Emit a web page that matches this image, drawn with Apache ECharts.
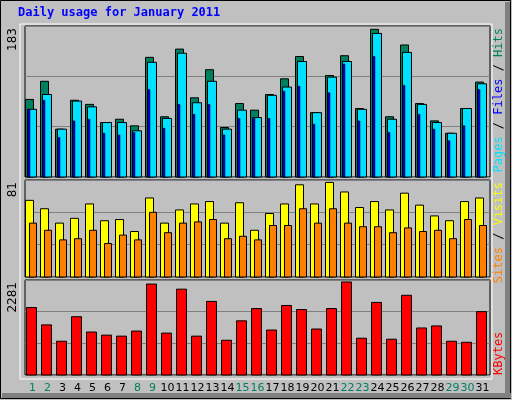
<!DOCTYPE html>
<html><head><meta charset="utf-8">
<script src="https://cdn.jsdelivr.net/npm/echarts@6/dist/echarts.min.js"></script>
<style>html,body{margin:0;padding:0;background:#fff}#c{width:512px;height:400px}</style>
</head><body><div id="c"></div>
<script>
const days = Array.from({length:31},(_,i)=>String(i+1));
const weekend = ['1','2','8','9','15','16','22','23','29','30'];
const hits  = [94,116,58,93,88,66,70,62,145,73,155,96,130,60,89,81,100,119,146,78,123,147,83,179,73,160,89,68,53,83,115];
const files = [82,100,58,92,85,66,66,56,139,71,150,90,116,58,81,72,99,109,140,78,121,140,82,174,70,151,88,66,53,83,113];
const pages = [82,93,48,68,70,53,51,54,106,59,88,76,88,51,71,71,71,104,110,64,102,137,68,146,54,111,76,58,44,62,106];
const visits= [64,57,45,49,61,47,48,38,66,45,56,61,63,45,62,39,53,61,77,61,79,71,58,63,56,70,60,51,47,63,66];
const sites = [45,39,31,32,39,28,35,31,54,37,45,46,48,32,34,31,43,43,57,45,57,45,42,42,37,41,38,39,32,48,43];
const kbytes= [1620,1203,810,1399,1031,957,933,1055,2184,1006,2061,933,1767,834,1301,1595,1080,1669,1571,1104,1595,2233,883,1743,859,1914,1129,1178,810,785,1521];
const maxTop=183, maxMid=81, maxBot=2281;

function barItem(off, w, color, lw){
  return function(params, api){
    const x = api.coord([api.value(0), 0]);
    const y = api.coord([api.value(0), api.value(1)]);
    return {type:'rect', shape:{x:x[0]+off, y:y[1], width:w, height:x[1]-y[1]},
      style:{fill:color, stroke:'#000', lineWidth:lw}};
  };
}
function ser(data, gi, off, w, color, lw){
  return {type:'custom', xAxisIndex:gi, yAxisIndex:gi, renderItem:barItem(off,w,color,lw),
    data:data.map((v,i)=>[i,v]), encode:{x:0,y:1}, clip:false};
}
const L=25, W=465;
const grids=[{left:L,width:W,top:26,height:151},{left:L,width:W,top:180,height:97},{left:L,width:W,top:280,height:95}];
const xAxes=grids.map((g,i)=>({gridIndex:i,type:'category',data:days,boundaryGap:true,
  axisLine:{show:false},axisTick:{show:false},
  axisLabel:{show:i===2,interval:0,margin:8,fontSize:11,fontFamily:'DejaVu Sans',
    color:(v)=>weekend.includes(v)?'#00805F':'#000'}}));
const maxes=[maxTop,maxMid,maxBot];
const yAxes=maxes.map((m,i)=>({gridIndex:i,type:'value',min:0,max:m,interval:m/3,
  axisLabel:{show:false},axisLine:{show:false},axisTick:{show:false},
  splitLine:{show:true,lineStyle:{color:'#808080',width:1}}}));
const chart=echarts.init(document.getElementById('c'),null,{renderer:'canvas'});
const fm='12px "DejaVu Sans Mono"';
chart.setOption({
  animation:false,
  backgroundColor:'#C0C0C0',
  grid:grids.map(g=>Object.assign({show:true,backgroundColor:'#C0C0C0',borderColor:'#000',borderWidth:1},g)),
  xAxis:xAxes, yAxis:yAxes,
  graphic:[
    {type:'rect',shape:{x:0.5,y:0.5,width:510,height:398},style:{fill:'none',stroke:'#000',lineWidth:1}},
    {type:'rect',shape:{x:2,y:393,width:509,height:5},style:{fill:'#808080'}},
    {type:'rect',shape:{x:505,y:2,width:5,height:395},style:{fill:'#808080'}},
    {type:'rect',shape:{x:20,y:24,width:472,height:355},style:{fill:'none',stroke:'#fff',lineWidth:1}},
    {type:'text',left:18,top:7,style:{text:'Daily usage for January 2011',fill:'#0000FF',font:'bold 12px "DejaVu Sans Mono"'}},
    {type:'text',x:13,y:28,rotation:Math.PI/2,style:{text:String(maxTop),fill:'#000',font:'12px "DejaVu Sans"',align:'right',verticalAlign:'middle'}},
    {type:'text',x:13,y:182,rotation:Math.PI/2,style:{text:String(maxMid),fill:'#000',font:'12px "DejaVu Sans"',align:'right',verticalAlign:'middle'}},
    {type:'text',x:13,y:282,rotation:Math.PI/2,style:{text:String(maxBot),fill:'#000',font:'12px "DejaVu Sans"',align:'right',verticalAlign:'middle'}},
    {type:'text',x:499,y:28,rotation:Math.PI/2,style:{text:'{p|Pages}{s| / }{f|Files}{s| / }{h|Hits}',align:'right',verticalAlign:'middle',font:fm,
      rich:{p:{fill:'#00E0FF',font:fm},f:{fill:'#0000FF',font:fm},h:{fill:'#00805F',font:fm},s:{fill:'#000',font:fm}}}},
    {type:'text',x:499,y:182,rotation:Math.PI/2,style:{text:'{a|Sites}{s| / }{b|Visits}',align:'right',verticalAlign:'middle',font:fm,
      rich:{a:{fill:'#FF8000',font:fm},b:{fill:'#FFFF00',font:fm},s:{fill:'#000',font:fm}}}},
    {type:'text',x:499,y:375,rotation:Math.PI/2,style:{text:'KBytes',align:'left',verticalAlign:'middle',fill:'#FF0000',font:fm}}
  ],
  series:[
    ser(hits,0,-7,8,'#00805F',1),
    ser(files,0,-5,9,'#00E0FF',1),
    ser(pages,0,-4.5,2,'#0000FF',0.5),
    ser(visits,1,-7,8,'#FFFF00',1),
    ser(sites,1,-3,7,'#FF8000',1),
    ser(kbytes,2,-6,10,'#FF0000',1)
  ]
});
</script></body></html>
